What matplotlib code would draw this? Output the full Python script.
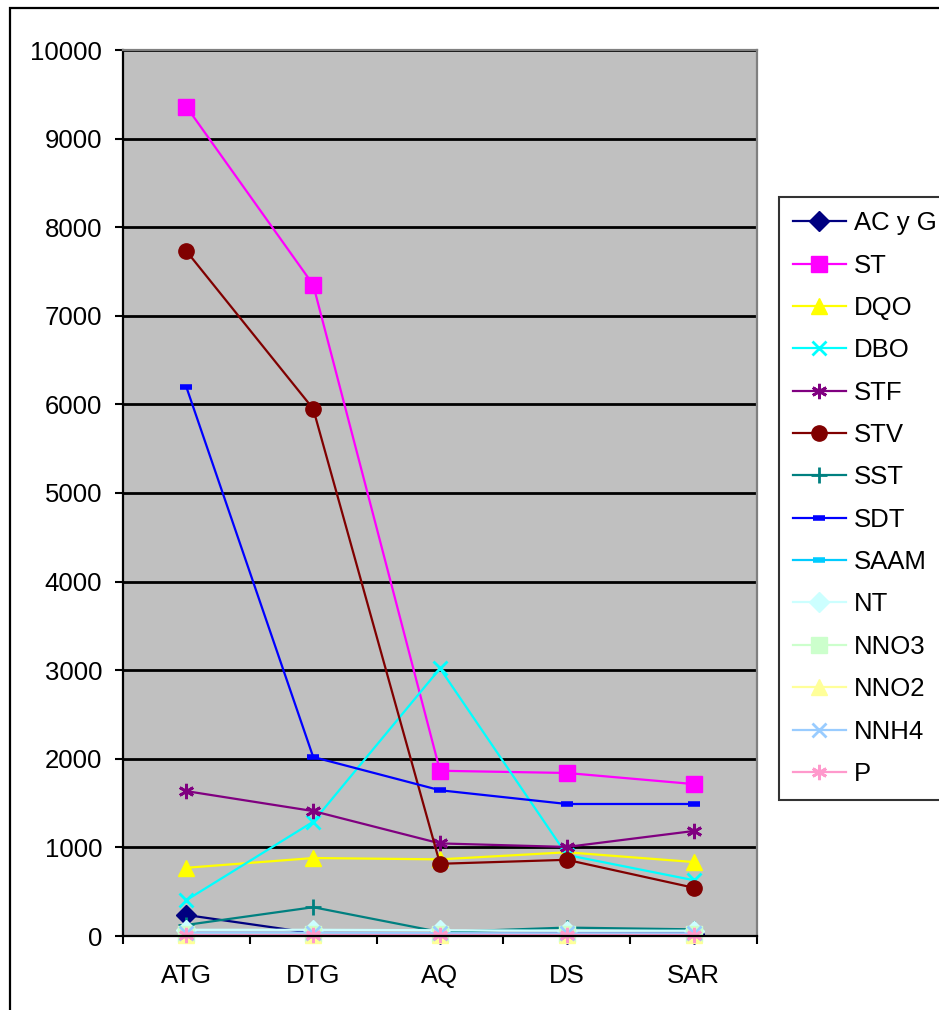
import matplotlib
matplotlib.use("Agg")
import matplotlib.pyplot as plt
from matplotlib.patches import Rectangle

plt.rcParams['font.family'] = ['Liberation Sans', 'DejaVu Sans']

categories = ["ATG", "DTG", "AQ", "DS", "SAR"]

ac_y_g = [237, 32, 28, 28, 28]
st = [9360, 7350, 1865, 1840, 1715]
dqo = [770, 880, 865, 945, 835]
dbo = [405, 1290, 3020, 915, 630]
stf = [1635, 1410, 1045, 1005, 1185]
stv = [7730, 5950, 815, 860, 545]
sst = [125, 325, 45, 95, 75]
sdt = [6195, 2020, 1645, 1490, 1490]
saam = [8, 8, 8, 8, 8]
nt = [70, 70, 65, 60, 60]
nno3 = [20, 20, 18, 18, 18]
nno2 = [12, 12, 12, 12, 12]
nnh4 = [38, 38, 32, 30, 30]
p = [10, 10, 10, 10, 10]

series = [
    ("AC y G", ac_y_g, "#000080", "D", 10),
    ("ST", st, "#FF00FF", "s", 11),
    ("DQO", dqo, "#FFFF00", "^", 12),
    ("DBO", dbo, "#00FFFF", "x", 10),
    ("STF", stf, "#800080", (6, 2, 0), 11),
    ("STV", stv, "#800000", "o", 11),
    ("SST", sst, "#008080", "+", 11),
    ("SDT", sdt, "#0000FF", "_", 8),
    ("SAAM", saam, "#00CCFF", "_", 8),
    ("NT", nt, "#CCFFFF", "D", 10),
    ("NNO3", nno3, "#CCFFCC", "s", 11),
    ("NNO2", nno2, "#FFFF99", "^", 12),
    ("NNH4", nnh4, "#99CCFF", "x", 10),
    ("P", p, "#FF99CC", (6, 2, 0), 11),
]

fig = plt.figure(figsize=(9.39, 10.1), dpi=100)
ax = fig.add_axes([123 / 939, 1 - 936 / 1010, 634 / 939, 886 / 1010])
ax.set_facecolor("#C0C0C0")

x = list(range(len(categories)))
for name, vals, color, marker, ms in series:
    kw = dict(color=color, lw=1.6, marker=marker, markersize=ms, label=name,
              markerfacecolor=color, markeredgecolor=color, clip_on=False)
    if marker in ("x", "+", "_") or isinstance(marker, tuple):
        kw["markeredgewidth"] = 4 if marker == "_" else 2
    ax.plot(x, vals, **kw)

ax.set_xlim(-0.5, len(categories) - 0.5)
ax.set_ylim(0, 10000)
ax.set_yticks(range(0, 10001, 1000))
ax.yaxis.grid(True, color="black", lw=2)
ax.set_axisbelow(True)

ax.set_xticks([i - 0.5 for i in range(len(categories) + 1)])
ax.set_xticklabels([])
ax.set_xticks(x, minor=True)
ax.set_xticklabels(categories, minor=True)
ax.tick_params(axis="x", which="major", direction="out", length=6, width=1.5, color="black")
ax.tick_params(axis="x", which="minor", length=0, pad=20, labelsize=18.5)
ax.tick_params(axis="y", direction="out", length=6, width=1.5, pad=9, labelsize=18.5)

for side in ("left", "bottom"):
    ax.spines[side].set_color("black")
    ax.spines[side].set_linewidth(1.6)
for side in ("top", "right"):
    ax.spines[side].set_color("#808080")
    ax.spines[side].set_linewidth(1.6)

leg = fig.legend(loc="upper left", bbox_to_anchor=(779 / 939, 1 - 197 / 1010),
                 fontsize=18.5, frameon=True, fancybox=False, edgecolor="black",
                 handlelength=2.05, handletextpad=0.3, labelspacing=0.715,
                 borderpad=0.55, borderaxespad=0)
leg.get_frame().set_linewidth(1.5)

fig.patches.append(Rectangle((10 / 939, -0.1), 2, 1 - 8 / 1010 + 0.1,
                             transform=fig.transFigure, fill=False,
                             edgecolor="black", lw=1.6))

fig.savefig("out.png", dpi=100)
